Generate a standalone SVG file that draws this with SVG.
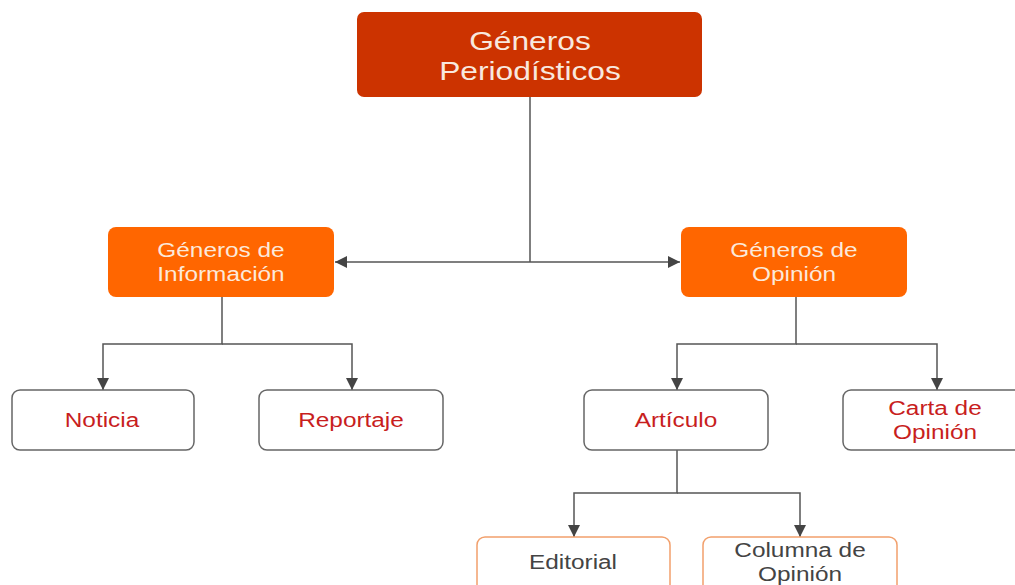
<svg xmlns="http://www.w3.org/2000/svg" width="1015" height="585" viewBox="0 0 1015 585">
<style>
text{font-family:"Liberation Sans",Arial,sans-serif;text-anchor:middle}
.top{fill:#CC3300}
.mid{fill:#FF6600}
.leaf{fill:#fff;stroke:#666;stroke-width:1.5}
.sub{fill:#fff;stroke:#F2A06C;stroke-width:1.5}
.tt{fill:#F8E8DE;font-size:25px}
.mt{fill:#FCE9DA;font-size:19.5px}
.lt{fill:#C81E1E;font-size:19.5px}
.st{fill:#444;font-size:19.5px}
.c{fill:none;stroke:#555;stroke-width:1.5}
</style>
<defs>
<marker id="ah" markerUnits="userSpaceOnUse" markerWidth="12" markerHeight="12" viewBox="0 0 12 12" refX="12" refY="6" orient="auto">
<path d="M0,0 L12,6 L0,12 z" fill="#444"/>
</marker>
</defs>
<g id="connectors">
<path class="c" d="M530,97 V262"/>
<path class="c" d="M530,262 H335" marker-end="url(#ah)"/>
<path class="c" d="M530,262 H680" marker-end="url(#ah)"/>
<path class="c" d="M222,297 V344 H103 V390" marker-end="url(#ah)"/>
<path class="c" d="M222,344 H352 V390" marker-end="url(#ah)"/>
<path class="c" d="M796,297 V344 H677 V390" marker-end="url(#ah)"/>
<path class="c" d="M796,344 H937 V390" marker-end="url(#ah)"/>
<path class="c" d="M677,450 V493 H574 V537" marker-end="url(#ah)"/>
<path class="c" d="M677,493 H800 V537" marker-end="url(#ah)"/>
</g>
<g id="n-generos-periodisticos">
<rect class="top" x="357" y="12" width="345" height="85" rx="7"/>
<text class="tt" transform="translate(530,50) scale(1.27,1)">Géneros</text>
<text class="tt" transform="translate(530,80) scale(1.27,1)">Periodísticos</text>
</g>
<g id="n-generos-informacion">
<rect class="mid" x="108" y="227" width="226" height="70" rx="8"/>
<text class="mt" transform="translate(221,257) scale(1.25,1)">Géneros de</text>
<text class="mt" transform="translate(221,281) scale(1.25,1)">Información</text>
</g>
<g id="n-generos-opinion">
<rect class="mid" x="681" y="227" width="226" height="70" rx="8"/>
<text class="mt" transform="translate(794,257) scale(1.25,1)">Géneros de</text>
<text class="mt" transform="translate(794,281) scale(1.25,1)">Opinión</text>
</g>
<g id="n-noticia">
<rect class="leaf" x="12" y="390" width="182" height="60" rx="8"/>
<text class="lt" transform="translate(102,427) scale(1.25,1)">Noticia</text>
</g>
<g id="n-reportaje">
<rect class="leaf" x="259" y="390" width="184" height="60" rx="8"/>
<text class="lt" transform="translate(351,427) scale(1.25,1)">Reportaje</text>
</g>
<g id="n-articulo">
<rect class="leaf" x="584" y="390" width="184" height="60" rx="8"/>
<text class="lt" transform="translate(676,427) scale(1.25,1)">Artículo</text>
</g>
<g id="n-carta-opinion">
<rect class="leaf" x="843" y="390" width="184" height="60" rx="8"/>
<text class="lt" transform="translate(935,415) scale(1.25,1)">Carta de</text>
<text class="lt" transform="translate(935,439) scale(1.25,1)">Opinión</text>
</g>
<g id="n-editorial">
<rect class="sub" x="477" y="537" width="193" height="56" rx="8"/>
<text class="st" transform="translate(573,569) scale(1.25,1)">Editorial</text>
</g>
<g id="n-columna-opinion">
<rect class="sub" x="703" y="537" width="194" height="56" rx="8"/>
<text class="st" transform="translate(800,557) scale(1.25,1)">Columna de</text>
<text class="st" transform="translate(800,581) scale(1.25,1)">Opinión</text>
</g>
</svg>
